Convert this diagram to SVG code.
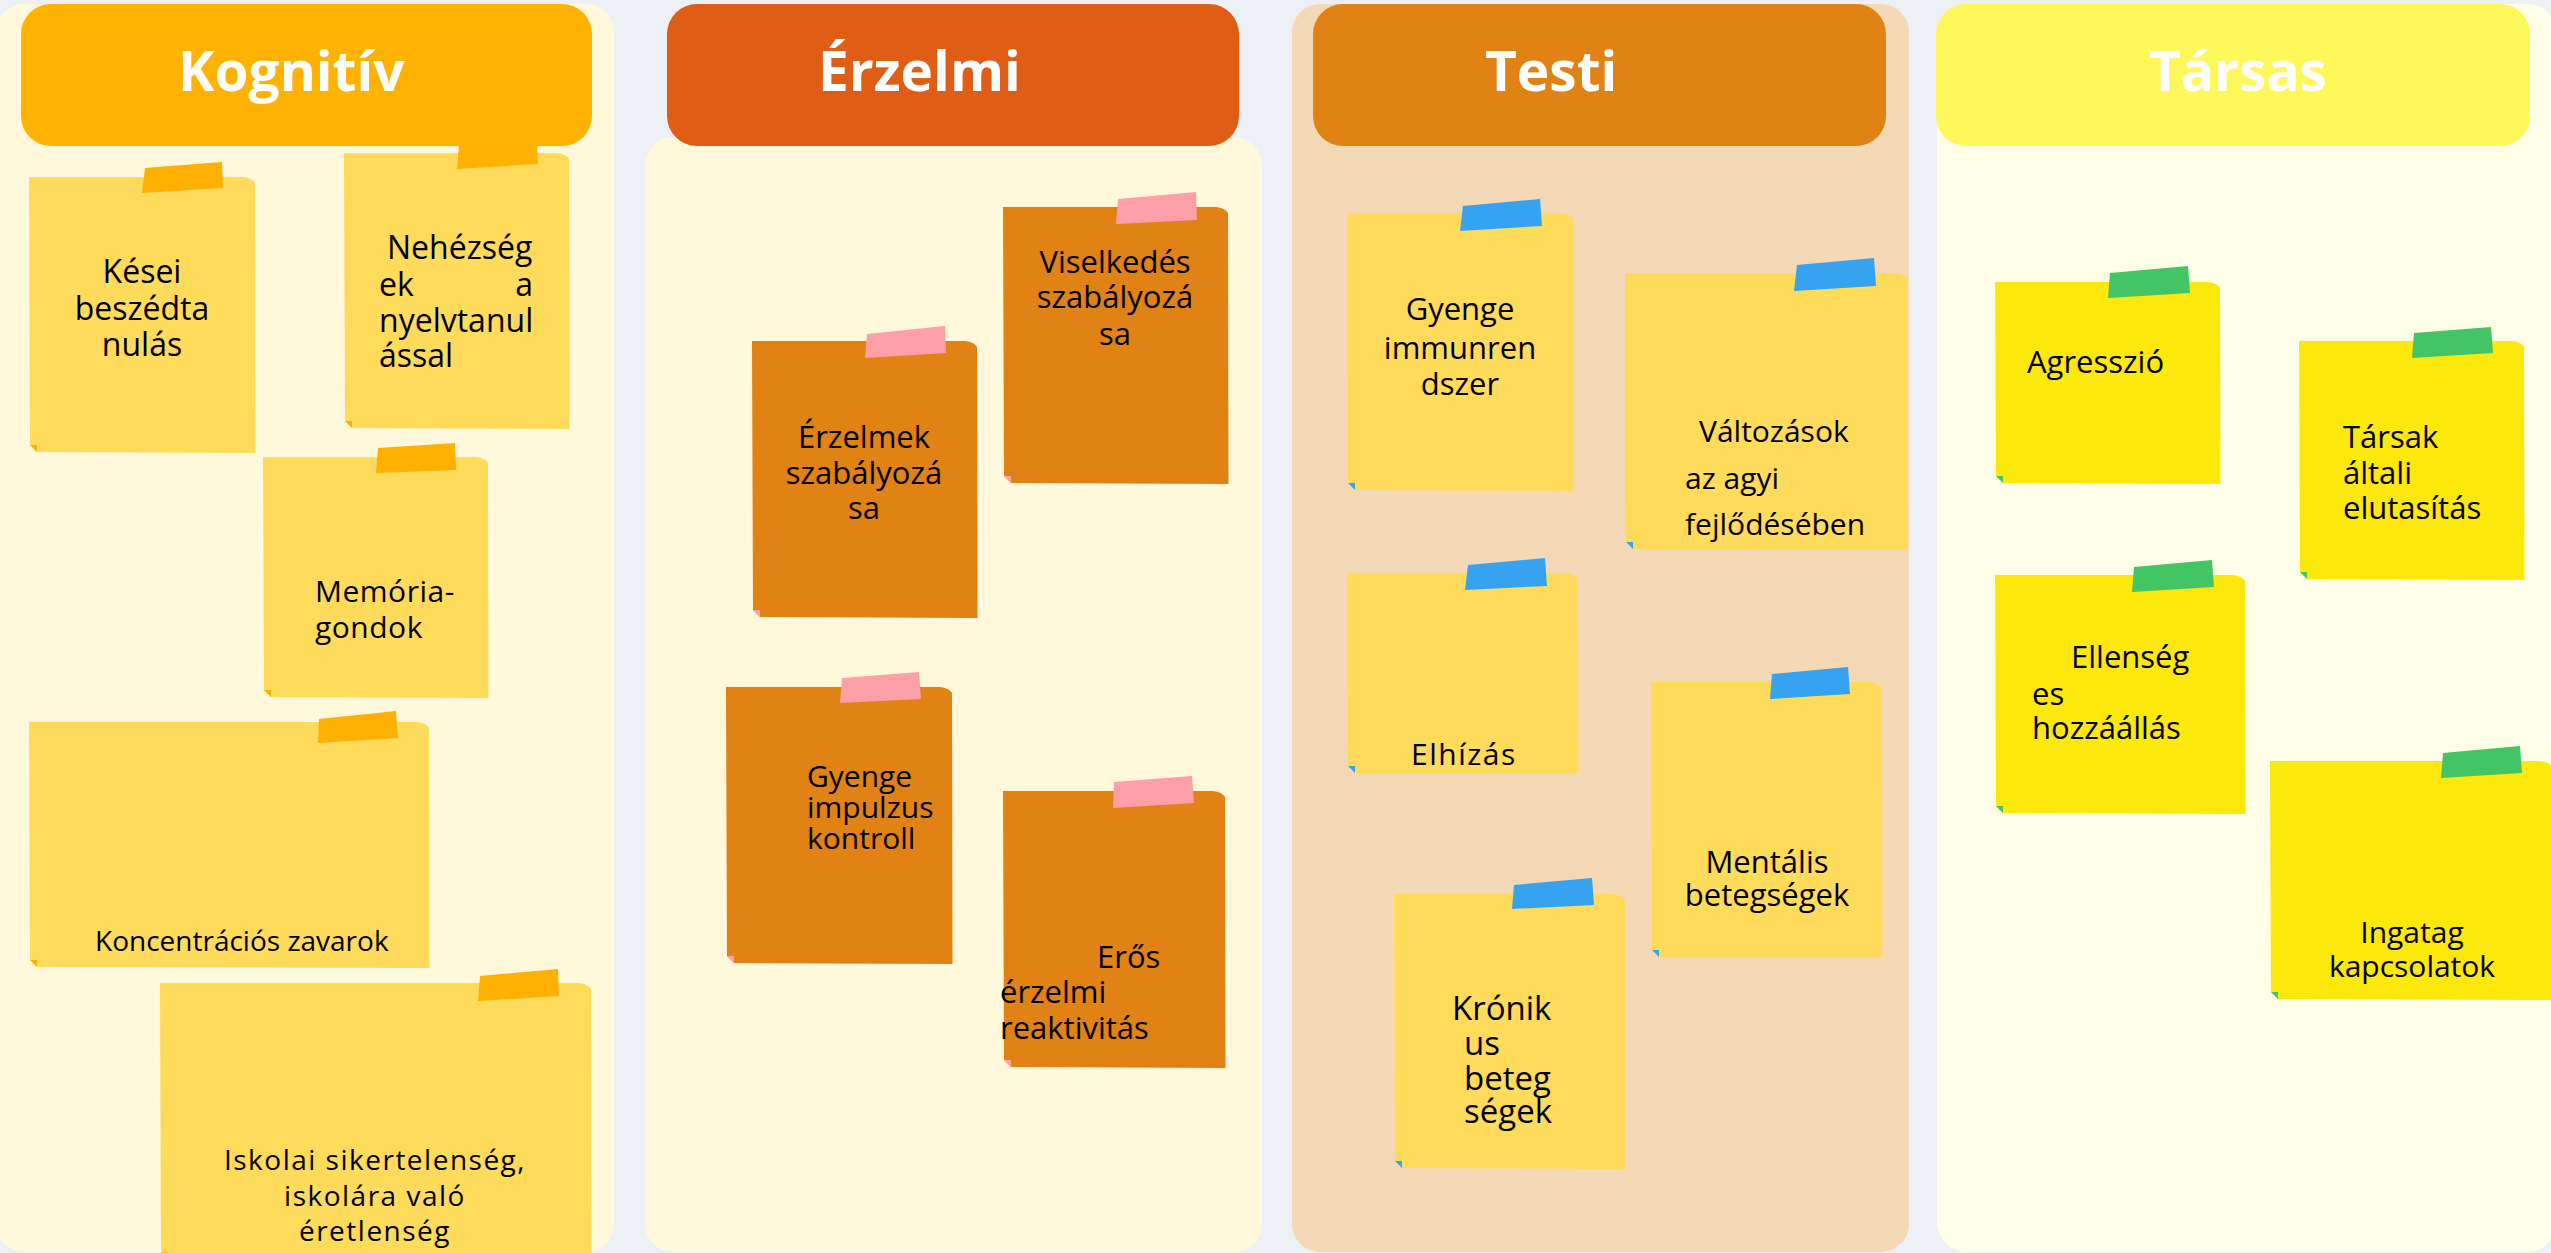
<svg xmlns="http://www.w3.org/2000/svg" width="2551" height="1253" viewBox="0 0 2551 1253">
<style>
.t{font-family:"Open Sans","Noto Sans","DejaVu Sans",sans-serif;fill:#000}
.h{font-family:"Open Sans","Noto Sans","DejaVu Sans",sans-serif;font-weight:700;font-size:55px;fill:#fff}
.ny{fill:#FFDB5C}.no{fill:#E08214}.nt{fill:#FCE80A}
.ta{fill:#FFB000}.tp{fill:#FFA0A8}.tb{fill:#36A3F0}.tg{fill:#43C465}
</style>
<rect x="0" y="0" width="2551" height="1253" fill="#EDF1F5"/>
<g id="panels">
<rect id="panel-kognitiv" x="-4" y="4" width="618" height="1248" rx="28" fill="#FFF8DB"/>
<rect id="panel-erzelmi" x="645" y="137" width="617" height="1115" rx="28" fill="#FFF8DB"/>
<rect id="panel-testi" x="1292" y="4" width="617" height="1248" rx="28" fill="#F5D8B5"/>
<rect id="panel-tarsas" x="1937" y="4" width="620" height="1248" rx="30" fill="#FFFEE7"/>
</g>
<g id="connectors"></g>
<g id="note-kesei">
<path class="ny" d="M29,177 L243,177 Q252,178 255,183 L255.5,453 L37,452 L30,445 Z"/>
<path class="ta" d="M30,445 L37,445 L37,452 Z"/>
<path class="ta" d="M145,168 L222,162 L223,188 L142,193 Z"/>
<text class="t" font-size="32" text-anchor="middle"><tspan x="142" y="283">Kései</tspan><tspan x="142" y="320">beszédta</tspan><tspan x="142" y="356">nulás</tspan></text>
</g>
<g id="note-nehezsegek">
<path class="ny" d="M344,153 L557,153 Q566,154 569,159 L569.5,429 L352,428 L345,421 Z"/>
<path class="ta" d="M345,421 L352,421 L352,428 Z"/>
<path class="ta" d="M459,145 L537,140 L538,164 L457,169 Z"/>
<text class="t" font-size="32"><tspan x="387" y="259">Nehézség</tspan><tspan x="379" y="296">ek</tspan><tspan x="533" y="296" text-anchor="end">a</tspan><tspan x="379" y="332">nyelvtanul</tspan><tspan x="379" y="367">ással</tspan></text>
</g>
<g id="note-memoria">
<path class="ny" d="M263,457 L476,457 Q485,458 488,463 L488.5,698 L271,697 L264,690 Z"/>
<path class="ta" d="M264,690 L271,690 L271,697 Z"/>
<path class="ta" d="M378,448 L455,443 L456,470 L376,473 Z"/>
<text class="t" font-size="30" letter-spacing="0.5"><tspan x="315" y="602">Memória-</tspan><tspan x="315" y="638">gondok</tspan></text>
</g>
<g id="note-koncentracio">
<path class="ny" d="M29,722 L417,722 Q426,723 429,728 L429.5,968 L37,967 L30,960 Z"/>
<path class="ta" d="M30,960 L37,960 L37,967 Z"/>
<path class="ta" d="M319,719 L396,711 L398,738 L318,743 Z"/>
<text class="t" font-size="28" x="95" y="951">Koncentrációs zavarok</text>
</g>
<g id="note-iskolai">
<path class="ny" d="M160,983 L579,983 Q588,984 591,989 L591.5,1260 L168,1259 L161,1252 Z"/>
<path class="ta" d="M161,1252 L168,1252 L168,1259 Z"/>
<path class="ta" d="M480,976 L558,969 L559,996 L478,1001 Z"/>
<text class="t" font-size="28" letter-spacing="1.5" text-anchor="middle"><tspan x="375" y="1170">Iskolai sikertelenség,</tspan><tspan x="375" y="1206">iskolára való</tspan><tspan x="375" y="1241">éretlenség</tspan></text>
</g>
<g id="note-viselkedes">
<path class="no" d="M1003,207 L1216,207 Q1225,208 1228,213 L1228.5,484 L1011,483 L1004,476 Z"/>
<path class="tp" d="M1004,476 L1011,476 L1011,483 Z"/>
<path class="tp" d="M1118,199 L1196,192 L1197,220 L1116,224 Z"/>
<text class="t" font-size="31" text-anchor="middle"><tspan x="1115" y="273">Viselkedés</tspan><tspan x="1115" y="308">szabályozá</tspan><tspan x="1115" y="345">sa</tspan></text>
</g>
<g id="note-erzelmek">
<path class="no" d="M752,341 L965,341 Q974,342 977,347 L977.5,618 L760,617 L753,610 Z"/>
<path class="tp" d="M753,610 L760,610 L760,617 Z"/>
<path class="tp" d="M867,334 L945,326 L946,353 L865,358 Z"/>
<text class="t" font-size="31" text-anchor="middle"><tspan x="864" y="448">Érzelmek</tspan><tspan x="864" y="484">szabályozá</tspan><tspan x="864" y="519">sa</tspan></text>
</g>
<g id="note-impulzus">
<path class="no" d="M726,687 L940,687 Q949,688 952,693 L952.5,964 L734,963 L727,956 Z"/>
<path class="tp" d="M727,956 L734,956 L734,963 Z"/>
<path class="tp" d="M842,678 L919,672 L921,699 L840,703 Z"/>
<text class="t" font-size="30"><tspan x="807" y="787">Gyenge</tspan><tspan x="807" y="818">impulzus</tspan><tspan x="807" y="849">kontroll</tspan></text>
</g>
<g id="note-eros">
<path class="no" d="M1003,791 L1213,791 Q1222,792 1225,797 L1225.5,1068 L1011,1067 L1004,1060 Z"/>
<path class="tp" d="M1004,1060 L1011,1060 L1011,1067 Z"/>
<path class="tp" d="M1114,782 L1192,776 L1194,803 L1113,808 Z"/>
<text class="t" font-size="31"><tspan x="1097" y="968">Erős</tspan><tspan x="1000" y="1003">érzelmi</tspan><tspan x="1000" y="1039">reaktivitás</tspan></text>
</g>
<g id="note-immun">
<path class="ny" d="M1347,213 L1561,213 Q1570,214 1573,219 L1573.5,491 L1355,490 L1348,483 Z"/>
<path class="tb" d="M1348,483 L1355,483 L1355,490 Z"/>
<path class="tb" d="M1463,206 L1540,199 L1542,226 L1460,231 Z"/>
<text class="t" font-size="31" text-anchor="middle"><tspan x="1460" y="320">Gyenge</tspan><tspan x="1460" y="359">immunren</tspan><tspan x="1460" y="395">dszer</tspan></text>
</g>
<g id="note-agyi">
<path class="ny" d="M1625,273 L1895,273 Q1904,274 1907,279 L1907.5,550 L1633,549 L1626,542 Z"/>
<path class="tb" d="M1626,542 L1633,542 L1633,549 Z"/>
<path class="tb" d="M1797,265 L1874,258 L1876,286 L1794,291 Z"/>
<text class="t" font-size="30"><tspan x="1699" y="442">Változások</tspan><tspan x="1685" y="489">az agyi</tspan><tspan x="1685" y="535">fejlődésében</tspan></text>
</g>
<g id="note-elhizas">
<path class="ny" d="M1347,573 L1566,573 Q1575,574 1578,579 L1578.5,774 L1355,773 L1348,766 Z"/>
<path class="tb" d="M1348,766 L1355,766 L1355,773 Z"/>
<path class="tb" d="M1468,565 L1545,558 L1547,586 L1465,590 Z"/>
<text class="t" font-size="30" letter-spacing="1.5" x="1411" y="765">Elhízás</text>
</g>
<g id="note-mentalis">
<path class="ny" d="M1651,682 L1870,682 Q1879,683 1882,688 L1882.5,958 L1659,957 L1652,950 Z"/>
<path class="tb" d="M1652,950 L1659,950 L1659,957 Z"/>
<path class="tb" d="M1772,674 L1848,667 L1850,694 L1770,699 Z"/>
<text class="t" font-size="31" text-anchor="middle"><tspan x="1767" y="873">Mentális</tspan><tspan x="1767" y="906">betegségek</tspan></text>
</g>
<g id="note-kronikus">
<path class="ny" d="M1394,894 L1613,894 Q1622,895 1625,900 L1625.5,1169 L1402,1168 L1395,1161 Z"/>
<path class="tb" d="M1395,1161 L1402,1161 L1402,1168 Z"/>
<path class="tb" d="M1514,885 L1592,878 L1594,905 L1512,909 Z"/>
<text class="t" font-size="33"><tspan x="1452" y="1020">Krónik</tspan><tspan x="1464" y="1055">us</tspan><tspan x="1464" y="1090">beteg</tspan><tspan x="1464" y="1123">ségek</tspan></text>
</g>
<g id="note-agresszio">
<path class="nt" d="M1995,282 L2208,282 Q2217,283 2220,288 L2220.5,484 L2003,483 L1996,476 Z"/>
<path class="tg" d="M1996,476 L2003,476 L2003,483 Z"/>
<path class="tg" d="M2110,273 L2188,266 L2190,293 L2108,298 Z"/>
<text class="t" font-size="31" x="2027" y="373">Agresszió</text>
</g>
<g id="note-tarsak">
<path class="nt" d="M2299,341 L2512,341 Q2521,342 2524,347 L2524.5,580 L2307,579 L2300,572 Z"/>
<path class="tg" d="M2300,572 L2307,572 L2307,579 Z"/>
<path class="tg" d="M2414,333 L2491,327 L2493,353 L2412,358 Z"/>
<text class="t" font-size="31"><tspan x="2343" y="448">Társak</tspan><tspan x="2343" y="484">általi</tspan><tspan x="2343" y="519">elutasítás</tspan></text>
</g>
<g id="note-ellenseges">
<path class="nt" d="M1995,575 L2233,575 Q2242,576 2245,581 L2245.5,814 L2003,813 L1996,806 Z"/>
<path class="tg" d="M1996,806 L2003,806 L2003,813 Z"/>
<path class="tg" d="M2134,567 L2212,560 L2214,587 L2132,592 Z"/>
<text class="t" font-size="31"><tspan x="2071" y="668">Ellenség</tspan><tspan x="2032" y="705">es</tspan><tspan x="2032" y="739">hozzáállás</tspan></text>
</g>
<g id="note-ingatag">
<path class="nt" d="M2270,761 L2540,761 Q2549,762 2552,767 L2552.5,1000 L2278,999 L2271,992 Z"/>
<path class="tg" d="M2271,992 L2278,992 L2278,999 Z"/>
<path class="tg" d="M2443,753 L2520,746 L2522,773 L2441,778 Z"/>
<text class="t" font-size="30" text-anchor="middle"><tspan x="2412" y="943">Ingatag</tspan><tspan x="2412" y="977">kapcsolatok</tspan></text>
</g>
<g id="header-kognitiv">
<rect x="21" y="4" width="571" height="142" rx="30" fill="#FFB200"/>
<text class="h" x="178" y="91">Kognitív</text>
</g>
<g id="header-erzelmi">
<rect x="667" y="4" width="572" height="142" rx="30" fill="#E05D15"/>
<text class="h" x="818" y="91">Érzelmi</text>
</g>
<g id="header-testi">
<rect x="1313" y="4" width="573" height="142" rx="30" fill="#E08214"/>
<text class="h" x="1485" y="91">Testi</text>
</g>
<g id="header-tarsas">
<rect x="1936" y="4" width="594" height="142" rx="30" fill="#FFF85A"/>
<text class="h" x="2149" y="91">Társas</text>
</g>
</svg>
